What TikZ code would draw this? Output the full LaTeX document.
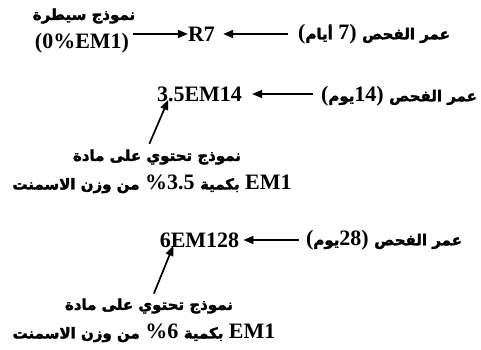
\documentclass[tikz,border=0pt]{standalone}
\usepackage{fontspec}
\usetikzlibrary{arrows.meta}
\setmainfont{Liberation Serif}
\newfontfamily\arfont[Script=Arabic,FakeBold=2.2]{DejaVu Sans}
\TeXXeTstate=1
% Arabic run, set right to left
\newcommand\ar[1]{{\arfont\fontsize{15}{18}\selectfont\beginR #1\endR}}
\tikzset{
  lbl/.style={inner sep=0pt, font=\bfseries\fontsize{22}{26}\selectfont},
  arr/.style={line width=1.7pt, -{Triangle[length=10pt,width=8pt]}},
}
\begin{document}
\begin{tikzpicture}[x=1pt,y=-1pt]
\useasboundingbox (0,0) rectangle (481,350);

% control sample, cured 7 days
\node[lbl] (ctrlA) at (84,16) {\ar{نموذج سيطرة}};
\node[lbl] (ctrl) at (82,43) {(0\%EM1)};
\node[lbl] (r7) at (201.5,34) {R7};
\node[lbl] (age7) at (374,34) {(\ar{أيام} 7) \ar{عمر الفحص}};
\draw[arr, shorten <=-2pt] (ctrlA.east |- r7) -- (r7);
\draw[arr, shorten <=10pt, shorten >=8pt] (age7) -- (r7);

% 3.5 % EM1, cured 14 days
\node[lbl] (em14) at (199.5,94) {3.5EM14};
\node[lbl] (age14) at (399,96) {(\ar{يوم}14) \ar{عمر الفحص}};
\draw[arr, shorten <=8pt, shorten >=10pt] (age14.west |- em14) -- (em14);
\node[lbl] (mixA1) at (157,157) {\ar{نموذج تحتوي على مادة}};
\node[lbl] (mixA2) at (152,184) {\ar{من وزن الاسمنت} \%3.5 \ar{بكمية} EM1};
\draw[arr, shorten <=6pt, shorten >=-2pt] ([xshift=-10pt]mixA1.north) -- ([xshift=-32pt]em14.south);

% 6 % EM1, cured 28 days
\node[lbl] (em28) at (199.5,240) {6EM128};
\node[lbl] (age28) at (384,240) {(\ar{يوم}28) \ar{عمر الفحص}};
\draw[arr, shorten <=7pt, shorten >=4pt] (age28.west |- em28) -- (em28);
\node[lbl] (mixB1) at (149,306) {\ar{نموذج تحتوي على مادة}};
\node[lbl] (mixB2) at (144,333) {\ar{من وزن الاسمنت} \%6 \ar{بكمية} EM1};
\draw[arr, shorten <=5pt, shorten >=-2pt] ([xshift=3pt]mixB1.north) -- ([xshift=-27pt]em28.south);
\end{tikzpicture}
\end{document}
